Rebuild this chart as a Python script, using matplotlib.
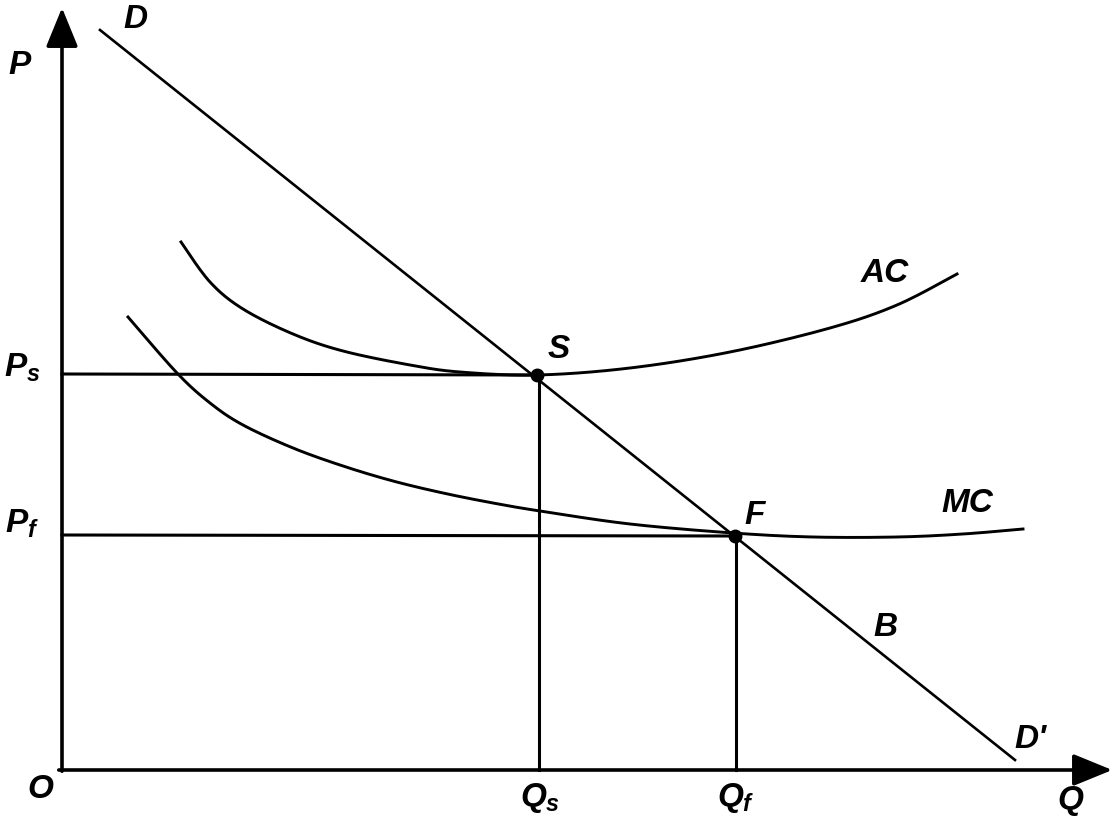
import matplotlib.pyplot as plt
import numpy as np

plt.rcParams['mathtext.fontset'] = 'custom'
plt.rcParams['mathtext.it'] = 'Liberation Sans:italic:bold'
plt.rcParams['mathtext.rm'] = 'Liberation Sans:bold'

# coordinates measured from the origin O (pixels of the original drawing)
demand_q = [38, 953]
demand_p = [740, 10]

ac_q = [119, 148, 181, 231, 281, 348, 398, 475, 568, 668, 768, 835, 895]
ac_p = [528, 488, 461, 436, 419, 405, 398, 395, 402, 418, 442, 465, 496]

mc_q = [66, 115, 148, 181, 231, 281, 331, 381, 431, 478, 568, 671, 751, 835, 901, 961]
mc_p = [453, 397, 367, 345, 322, 304, 289, 277, 267, 259, 246, 237, 233, 233, 236, 241]

S = (475, 395)
F = (673, 234)

labels = {
    'D': (73, 750), 'P': (-42, 705), 'AC': (823, 497), 'S': (497, 420),
    'F': (693, 255), 'MC': (905, 267), 'B': (823, 142), "D'": (968, 30),
    'O': (-22, -20), 'Q': (1008, -30),
}
sub_labels = {
    r'$P_s$': (-40, 403), r'$P_f$': (-40, 246),
    r'$Q_s$': (478, -28), r'$Q_f$': (674, -28),
}


def smooth(xs, ys, n=20):
    # Catmull-Rom curve through the read points, only for drawing
    pts = np.column_stack([xs, ys]).astype(float)
    pts = np.vstack([pts[0], pts, pts[-1]])
    out = []
    t = np.linspace(0, 1, n, endpoint=False)[:, None]
    for i in range(1, len(pts) - 2):
        p0, p1, p2, p3 = pts[i - 1], pts[i], pts[i + 1], pts[i + 2]
        seg = 0.5 * ((2 * p1) + (-p0 + p2) * t
                     + (2 * p0 - 5 * p1 + 4 * p2 - p3) * t ** 2
                     + (-p0 + 3 * p1 - 3 * p2 + p3) * t ** 3)
        out.append(seg)
    out.append(pts[-2][None, :])
    out = np.vstack(out)
    return out[:, 0], out[:, 1]


fig = plt.figure(figsize=(11.19, 8.16), dpi=100)
ax = fig.add_axes([0, 0, 1, 1])
ax.set_xlim(-62, 1057)
ax.set_ylim(-46, 770)
ax.axis('off')

# axes with arrows
ax.annotate('', xy=(0, 765), xytext=(0, -4),
            arrowprops=dict(arrowstyle='-|>,head_length=1.1,head_width=0.45',
                            lw=2.6, color='k', mutation_scale=22))
ax.annotate('', xy=(1053, 0), xytext=(-6, 0),
            arrowprops=dict(arrowstyle='-|>,head_length=1.1,head_width=0.45',
                            lw=2.6, color='k', mutation_scale=22))

ax.plot(demand_q, demand_p, color='k', lw=1.9)
ax.plot(*smooth(ac_q, ac_p), color='k', lw=2.1)
ax.plot(*smooth(mc_q, mc_p), color='k', lw=2.1)

# price and quantity guides
ax.plot([0, S[0]], [S[1] + 1, S[1]], color='k', lw=2.2)
ax.plot([0, F[0]], [F[1] + 1, F[1]], color='k', lw=2.2)
ax.plot([S[0] + 2, S[0] + 2], [S[1], 0], color='k', lw=2.2)
ax.plot([F[0] + 1, F[0] + 1], [F[1], 0], color='k', lw=2.2)

ax.plot(*S, 'o', color='k', ms=9)
ax.plot(*F, 'o', color='k', ms=9)

fs = 24
style = dict(fontsize=fs, style='italic', family='Liberation Sans',
             fontweight='bold', ha='center', va='center')
for txt, (x, y) in labels.items():
    ax.text(x, y, txt, **style)
for txt, (x, y) in sub_labels.items():
    ax.text(x, y, txt, fontsize=fs, ha='center', va='center')

fig.savefig('out.png', dpi=100)
